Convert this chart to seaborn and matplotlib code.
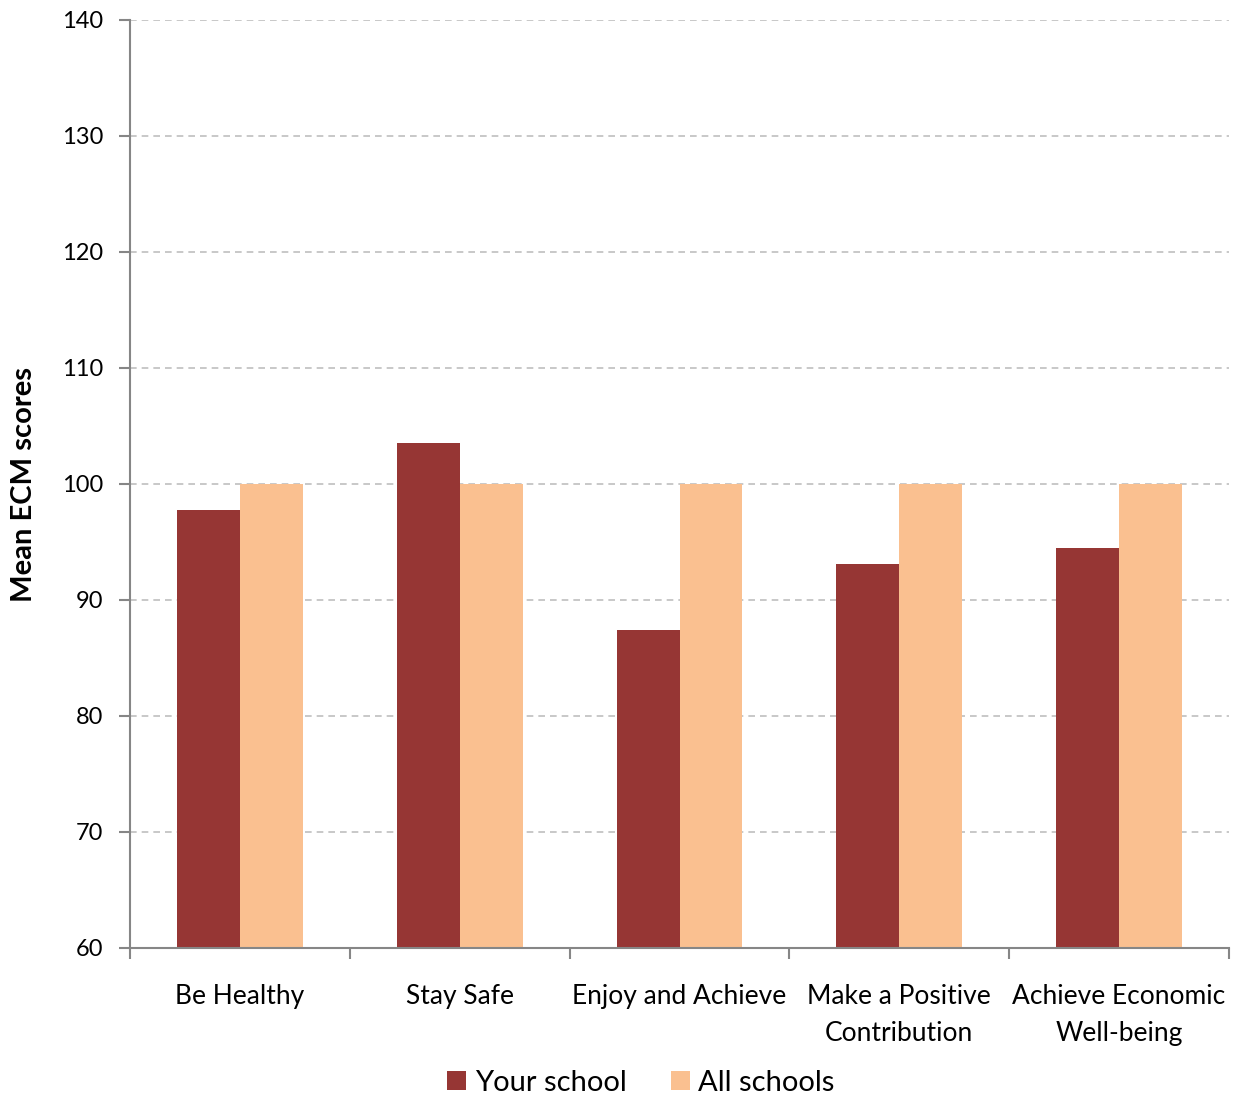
import matplotlib
matplotlib.use("Agg")
import matplotlib.pyplot as plt
import seaborn as sns
import pandas as pd
import numpy as np
from matplotlib.ticker import FixedLocator
from matplotlib.patches import Patch

categories = ["Be Healthy", "Stay Safe", "Enjoy and Achieve",
              "Make a Positive\nContribution", "Achieve Economic\nWell-being"]
your_school = [97.8, 103.5, 87.4, 93.1, 94.5]
all_schools = [100, 100, 100, 100, 100]
series_names = ["Your school", "All schools"]
colors = ["#963634", "#FAC090"]

df = pd.DataFrame({
    "category": categories * 2,
    "series": [series_names[0]] * 5 + [series_names[1]] * 5,
    "value": your_school + all_schools,
})

sns.set_theme(style="white")
plt.rcParams["font.family"] = ["Lato", "DejaVu Sans"]
plt.rcParams["text.color"] = "black"
plt.rcParams["axes.labelcolor"] = "black"
plt.rcParams["xtick.color"] = "black"
plt.rcParams["ytick.color"] = "black"

fig = plt.figure(figsize=(12.38, 10.97), dpi=100)
ax = fig.add_axes([130/1238, 1 - 948/1097, 1099/1238, 928/1097])

sns.barplot(data=df, x="category", y="value", hue="series", order=categories,
            hue_order=series_names, palette=colors, width=0.573, ax=ax,
            saturation=1, legend=False, zorder=2, linewidth=0, edgecolor="none")

ax.set_ylim(60, 140)
ax.set_xlim(-0.5, 4.5)
ax.set_yticks(np.arange(60, 141, 10))
ax.yaxis.grid(True, linestyle=(0, (4, 3)), color="#BFBFBF", linewidth=1.2, zorder=0)
ax.set_axisbelow(True)

ax.set_xlabel("")
ax.set_ylabel("Mean ECM scores", fontsize=21, fontweight="bold", labelpad=18)

for side in ["top", "right"]:
    ax.spines[side].set_visible(False)
for side in ["left", "bottom"]:
    ax.spines[side].set_color("#868686")
    ax.spines[side].set_linewidth(1.5)

ax.tick_params(axis="y", which="major", length=8, width=1.5, color="#868686",
               labelcolor="black", direction="out", labelsize=17, pad=11, left=True)
ax.tick_params(axis="x", which="major", length=0, labelsize=19, labelcolor="black", pad=26)
ax.xaxis.set_minor_locator(FixedLocator(np.arange(-0.5, 4.6, 1.0)))
ax.tick_params(axis="x", which="minor", length=8, width=1.5, color="#868686",
               direction="out", bottom=True)
for lbl in ax.get_xticklabels():
    lbl.set_linespacing(1.6)

handles = [Patch(facecolor=c, edgecolor="none") for c in colors]
fig.legend(handles, series_names, loc="center", bbox_to_anchor=(641/1238, 1 - 1083/1097),
           ncol=2, frameon=False, fontsize=21, handlelength=0.65, handleheight=0.65,
           handletextpad=0.3, columnspacing=1.5)

fig.savefig("out.png", dpi=100, facecolor="white")
